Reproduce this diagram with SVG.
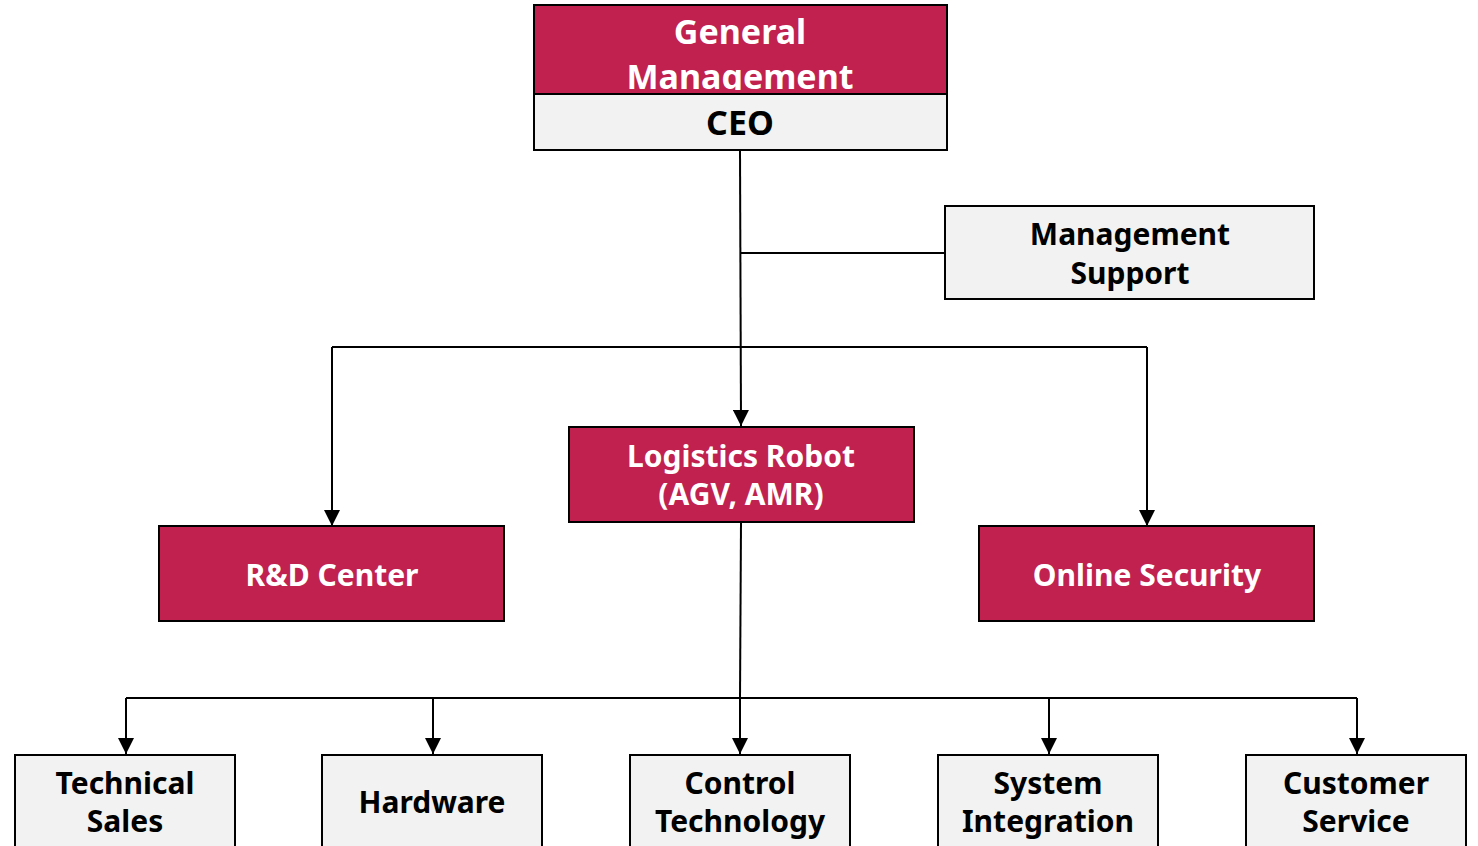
<svg xmlns="http://www.w3.org/2000/svg" width="1478" height="846" viewBox="0 0 1478 846">
<style>
.red{fill:#C0214F;stroke:#000;stroke-width:2}
.gray{fill:#F2F2F2;stroke:#000;stroke-width:2}
.wt{fill:#fff;font-family:"Noto Sans","Open Sans","DejaVu Sans",sans-serif;font-weight:bold;text-anchor:middle}
.bt{fill:#000;font-family:"Noto Sans","Open Sans","DejaVu Sans",sans-serif;font-weight:bold;text-anchor:middle}
.ln{fill:none;stroke:#000;stroke-width:2}
</style>
<defs>
<marker id="ah" markerWidth="16" markerHeight="16" viewBox="0 0 16 16" refX="16" refY="8" orient="auto" markerUnits="userSpaceOnUse">
<path d="M0,0 L16,8 L0,16 Z" fill="#000"/>
</marker>
<clipPath id="gmclip"><rect x="534" y="5" width="413" height="85"/></clipPath>
</defs>
<g id="connectors">
<path class="ln" d="M740,150 L741,426" marker-end="url(#ah)"/>
<path class="ln" d="M740,253 L945,253"/>
<path class="ln" d="M332,347 L1147,347"/>
<path class="ln" d="M332,347 L332,526" marker-end="url(#ah)"/>
<path class="ln" d="M1147,347 L1147,526" marker-end="url(#ah)"/>
<path class="ln" d="M741,522 L740,698"/>
<path class="ln" d="M126,698 L1357,698"/>
<path class="ln" d="M126,698 L126,754" marker-end="url(#ah)"/>
<path class="ln" d="M433,698 L433,754" marker-end="url(#ah)"/>
<path class="ln" d="M740,698 L740,754" marker-end="url(#ah)"/>
<path class="ln" d="M1049,698 L1049,754" marker-end="url(#ah)"/>
<path class="ln" d="M1357,698 L1357,754" marker-end="url(#ah)"/>
</g>
<g id="general-management">
<rect class="red" x="534" y="5" width="413" height="89"/>
<g clip-path="url(#gmclip)">
<text class="wt" x="740" y="44" font-size="34">General</text>
<text class="wt" x="740" y="89" font-size="34">Management</text>
</g>
</g>
<g id="ceo">
<rect class="gray" x="534" y="94" width="413" height="56"/>
<text class="bt" x="740" y="135" font-size="34">CEO</text>
</g>
<g id="management-support">
<rect class="gray" x="945" y="206" width="369" height="93"/>
<text class="bt" x="1130" y="245" font-size="30">Management</text>
<text class="bt" x="1130" y="284" font-size="30">Support</text>
</g>
<g id="logistics-robot">
<rect class="red" x="569" y="427" width="345" height="95"/>
<text class="wt" x="741" y="467" font-size="30">Logistics Robot</text>
<text class="wt" x="741" y="505" font-size="30">(AGV, AMR)</text>
</g>
<g id="rd-center">
<rect class="red" x="159" y="526" width="345" height="95"/>
<text class="wt" x="332" y="586" font-size="30">R&amp;D Center</text>
</g>
<g id="online-security">
<rect class="red" x="979" y="526" width="335" height="95"/>
<text class="wt" x="1147" y="586" font-size="30">Online Security</text>
</g>
<g id="technical-sales">
<rect class="gray" x="15" y="755" width="220" height="95"/>
<text class="bt" x="125" y="794" font-size="30">Technical</text>
<text class="bt" x="125" y="832" font-size="30">Sales</text>
</g>
<g id="hardware">
<rect class="gray" x="322" y="755" width="220" height="95"/>
<text class="bt" x="432" y="813" font-size="30">Hardware</text>
</g>
<g id="control-technology">
<rect class="gray" x="630" y="755" width="220" height="95"/>
<text class="bt" x="740" y="794" font-size="30">Control</text>
<text class="bt" x="740" y="832" font-size="30">Technology</text>
</g>
<g id="system-integration">
<rect class="gray" x="938" y="755" width="220" height="95"/>
<text class="bt" x="1048" y="794" font-size="30">System</text>
<text class="bt" x="1048" y="832" font-size="30">Integration</text>
</g>
<g id="customer-service">
<rect class="gray" x="1246" y="755" width="220" height="95"/>
<text class="bt" x="1356" y="794" font-size="30">Customer</text>
<text class="bt" x="1356" y="832" font-size="30">Service</text>
</g>
</svg>
